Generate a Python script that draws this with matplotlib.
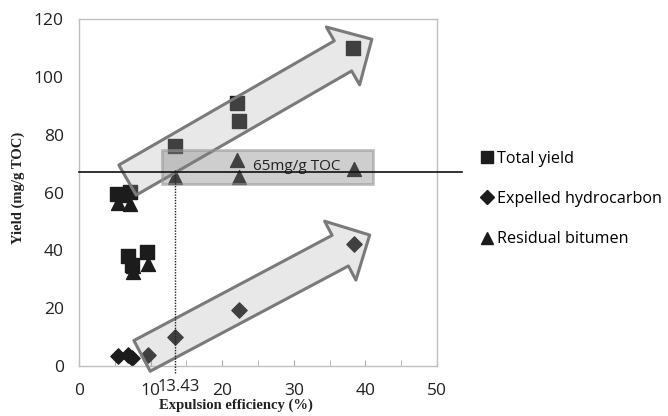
import matplotlib.pyplot as plt
from matplotlib.patches import FancyArrowPatch, Rectangle
from matplotlib.lines import Line2D

# expulsion efficiency (%) / yield (mg/g TOC)
total_x = [5.3, 6.1, 7.1, 6.9, 7.4, 9.5, 13.4, 22.1, 22.4, 38.3]
total_y = [59.5, 59.0, 60.2, 38.0, 35.0, 39.3, 76.2, 90.8, 84.8, 110.1]

expelled_x = [5.4, 6.9, 7.4, 9.6, 13.43, 22.3, 38.4]
expelled_y = [3.5, 3.8, 2.7, 3.9, 10.1, 19.4, 42.2]

bitumen_x = [5.5, 7.1, 7.5, 7.5, 9.6, 13.43, 22.1, 22.4, 38.4]
bitumen_y = [56.3, 56.0, 34.5, 32.5, 35.3, 65.5, 71.3, 65.5, 68.0]

threshold = 67
eff_cut = 13.43

fig = plt.figure(figsize=(6.68, 4.16), dpi=100)
ax = fig.add_axes([0.1183, 0.1202, 0.5359, 0.8341])

ax.scatter(total_x, total_y, marker='s', s=90, color='#1c1c1c', zorder=2)
ax.scatter(expelled_x, expelled_y, marker='D', s=60, color='#1c1c1c', zorder=2)
ax.scatter(bitumen_x, bitumen_y, marker='^', s=100, color='#1c1c1c', zorder=2)

# trend arrows
for tail, tip in [((6.77, 64.3), (40.9, 113.0)), ((8.8, 3.5), (40.6, 45.3))]:
    arr = FancyArrowPatch(tail, tip, arrowstyle='simple,head_width=48,head_length=24,tail_width=25',
                          mutation_scale=1, edgecolor='#7a7a7a', linewidth=2.2, zorder=3,
                          clip_on=False, shrinkA=0, shrinkB=0)
    arr.set_facecolor((0.66, 0.66, 0.66, 0.26))
    ax.add_patch(arr)

# 65 mg/g TOC band
band = Rectangle((11.6, 63.0), 29.5, 11.7, facecolor=(0.5, 0.5, 0.5, 0.38),
                 edgecolor=(0.6, 0.6, 0.6, 0.6), linewidth=2.0, zorder=3)
ax.add_patch(band)
ax.text(24.3, 68.9, '65mg/g TOC', fontsize=11, family='Open Sans',
        va='center', ha='left', color='#222222', zorder=4)

ax.plot([0, 53.5], [threshold, threshold], color='#111111', lw=1.2, zorder=4, clip_on=False)
ax.plot([eff_cut, eff_cut], [-2.5, threshold], color='#222222', lw=1.0,
        ls=(0, (1, 1)), zorder=4, clip_on=False)
ax.text(13.95, -4.6, '13.43', fontsize=12, family='Open Sans', ha='center', va='top',
        color='#222222')

ax.set_xlim(0, 50)
ax.set_ylim(0, 120)
ax.set_xticks(range(0, 51, 10))
ax.set_xticks(range(5, 50, 10), minor=True)
ax.set_yticks(range(0, 121, 20))
for s in ax.spines.values():
    s.set_color('#bfbfbf')
    s.set_linewidth(1.0)
ax.tick_params(axis='x', which='both', direction='in', length=4, color='#aaaaaa', pad=12,
               labelsize=12.5)
ax.tick_params(axis='y', length=0, pad=11, labelsize=12.5)
for lab in ax.get_xticklabels() + ax.get_yticklabels():
    lab.set_family('Open Sans')
    lab.set_color('#222222')

fig.text(0.353, 0.027, 'Expulsion efficiency (%)', family='Liberation Serif',
         fontweight='bold', fontsize=10.5, ha='center', va='center', color='#222222')
fig.text(0.027, 0.548, 'Yield (mg/g TOC)', family='Liberation Serif', fontweight='bold',
         fontsize=10.5, ha='center', va='center', rotation=90, color='#222222')

handles = [Line2D([], [], marker='s', ls='', color='#1c1c1c', markersize=9),
           Line2D([], [], marker='D', ls='', color='#1c1c1c', markersize=7),
           Line2D([], [], marker='^', ls='', color='#1c1c1c', markersize=9)]
leg = fig.legend(handles, ['Total yield', 'Expelled hydrocarbon', 'Residual bitumen'],
                 loc='upper left', bbox_to_anchor=(0.698, 0.672), frameon=False,
                 handlelength=0.8, handletextpad=0.2, labelspacing=1.5,
                 prop={'family': 'Open Sans', 'size': 11.6})

fig.savefig('out.png', dpi=100)
